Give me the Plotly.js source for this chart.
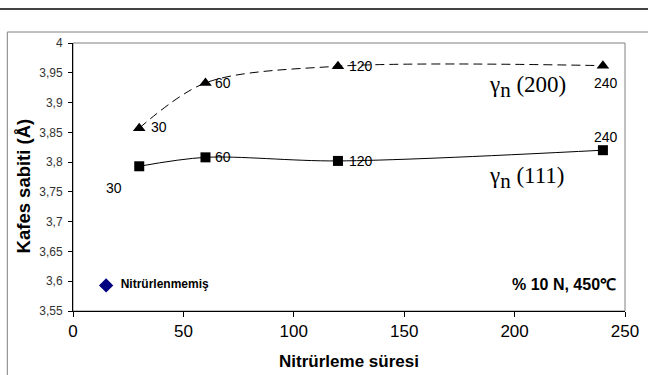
<!DOCTYPE html>
<html>
<head>
<meta charset="utf-8">
<script src="https://cdn.plot.ly/plotly-3.0.1.min.js"></script>
<style>
  html, body { margin: 0; padding: 0; background: #ffffff; }
  #chart { width: 648px; height: 375px; }
</style>
</head>
<body>
<div id="chart"></div>
<script>
// Nitriding time (min) and lattice parameter (Å) for γn peaks at 10% N, 450 °C
const times = [30, 60, 120, 240];
const gamma200 = [3.857, 3.933, 3.961, 3.962];
const gamma111 = [3.793, 3.808, 3.802, 3.820];
const untreatedX = [15];
const untreatedY = [3.593];
const untreatedName = 'Nitrürlenmemiş';

// where each time label sits relative to its marker (pixels)
const place200 = [
  { xanchor: 'left', yanchor: 'middle', xshift: 11, yshift: 1 },
  { xanchor: 'left', yanchor: 'middle', xshift: 9, yshift: 0 },
  { xanchor: 'left', yanchor: 'middle', xshift: 10, yshift: 0 },
  { xanchor: 'center', yanchor: 'middle', xshift: 3, yshift: -17 }
];
const place111 = [
  { xanchor: 'center', yanchor: 'middle', xshift: -25, yshift: -22 },
  { xanchor: 'left', yanchor: 'middle', xshift: 9, yshift: 0 },
  { xanchor: 'left', yanchor: 'middle', xshift: 10, yshift: 0 },
  { xanchor: 'center', yanchor: 'middle', xshift: 3, yshift: 13 }
];

const sans = 'Arial, Liberation Sans, sans-serif';
const serif = 'Liberation Serif, Times New Roman, serif';
const labelFont = { family: sans, size: 14, color: '#000000' };

const traces = [
  {
    x: times, y: gamma200, mode: 'lines+markers', type: 'scatter',
    line: { color: '#000000', width: 1, dash: '9px,5px', shape: 'spline', smoothing: 0.9 },
    marker: { symbol: 'triangle-up', size: 11, color: '#000000' },
    hoverinfo: 'skip', showlegend: false
  },
  {
    x: times, y: gamma111, mode: 'lines+markers', type: 'scatter',
    line: { color: '#000000', width: 1, shape: 'spline', smoothing: 0.9 },
    marker: { symbol: 'square', size: 10, color: '#000000' },
    hoverinfo: 'skip', showlegend: false
  },
  {
    x: untreatedX, y: untreatedY, mode: 'markers+text', type: 'scatter',
    marker: { symbol: 'diamond', size: 11, color: '#000080' },
    text: ['  ' + untreatedName], textposition: 'middle right',
    textfont: { family: sans, size: 12, color: '#000000', weight: 'bold' },
    cliponaxis: false, hoverinfo: 'skip', showlegend: false
  }
];

function timeLabels(ys, places) {
  return times.map((t, i) => Object.assign({
    xref: 'x', yref: 'y', x: t, y: ys[i], text: String(t),
    showarrow: false, borderpad: 0, font: labelFont
  }, places[i]));
}

const layout = {
  width: 648, height: 375,
  margin: { l: 73, r: 23, t: 43, b: 64 },
  paper_bgcolor: '#ffffff', plot_bgcolor: '#ffffff',
  separators: ',.',
  showlegend: false,
  xaxis: {
    range: [0, 250], tick0: 0, dtick: 50,
    showgrid: false, zeroline: false,
    showline: true, linecolor: '#000000', linewidth: 1,
    ticks: 'outside', ticklen: 5, tickcolor: '#000000',
    tickfont: { family: sans, size: 17, color: '#000000' },
    title: { text: 'Nitrürleme süresi', standoff: 14,
             font: { family: sans, size: 17, color: '#000000', weight: 'bold' } }
  },
  yaxis: {
    range: [3.55, 4], tick0: 3.55, dtick: 0.05,
    showgrid: false, zeroline: false,
    showline: true, linecolor: '#000000', linewidth: 1,
    ticks: 'outside', ticklen: 4, tickcolor: '#000000',
    ticklabelstandoff: 3,
    tickfont: { family: sans, size: 12, color: '#333333' }
  },
  shapes: [
    // rule across the top of the page
    { type: 'line', xref: 'paper', yref: 'paper', x0: -0.3, x1: 1.3, y0: 1.127, y1: 1.127,
      line: { color: '#444444', width: 2 } },
    // chart area frame
    { type: 'rect', xref: 'paper', yref: 'paper', x0: -0.119, x1: 1.3, y0: -0.5, y1: 1.041,
      line: { color: '#808080', width: 1 }, layer: 'below' },
    // plot area frame
    { type: 'rect', xref: 'paper', yref: 'paper', x0: 0, x1: 1, y0: 0, y1: 1,
      line: { color: '#808080', width: 1 }, layer: 'below' }
  ],
  annotations: [
    // y-axis title, centred on the chart area rather than the plot area
    { xref: 'paper', yref: 'paper', x: -0.09, y: 0.466, xanchor: 'center', yanchor: 'middle',
      textangle: -90, text: 'Kafes sabiti (Å)', showarrow: false,
      font: { family: sans, size: 18.5, color: '#000000', weight: 'bold' } },
    { xref: 'paper', yref: 'paper', x: 0.75, y: 0.836, xanchor: 'left', yanchor: 'middle',
      text: 'γ<sub><span style="font-size:21px">n</span></sub> (200)', showarrow: false,
      font: { family: serif, size: 23, color: '#000000' } },
    { xref: 'paper', yref: 'paper', x: 0.75, y: 0.496, xanchor: 'left', yanchor: 'middle',
      text: 'γ<sub><span style="font-size:21px">n</span></sub> (111)', showarrow: false,
      font: { family: serif, size: 23, color: '#000000' } },
    { xref: 'paper', yref: 'paper', x: 0.988, y: 0.098, xanchor: 'right', yanchor: 'middle',
      text: '% 10 N, 450℃', showarrow: false,
      font: { family: sans, size: 16, color: '#000000', weight: 'bold' } }
  ].concat(timeLabels(gamma200, place200), timeLabels(gamma111, place111))
};

Plotly.newPlot('chart', traces, layout, { staticPlot: true, displayModeBar: false });
</script>
</body>
</html>
